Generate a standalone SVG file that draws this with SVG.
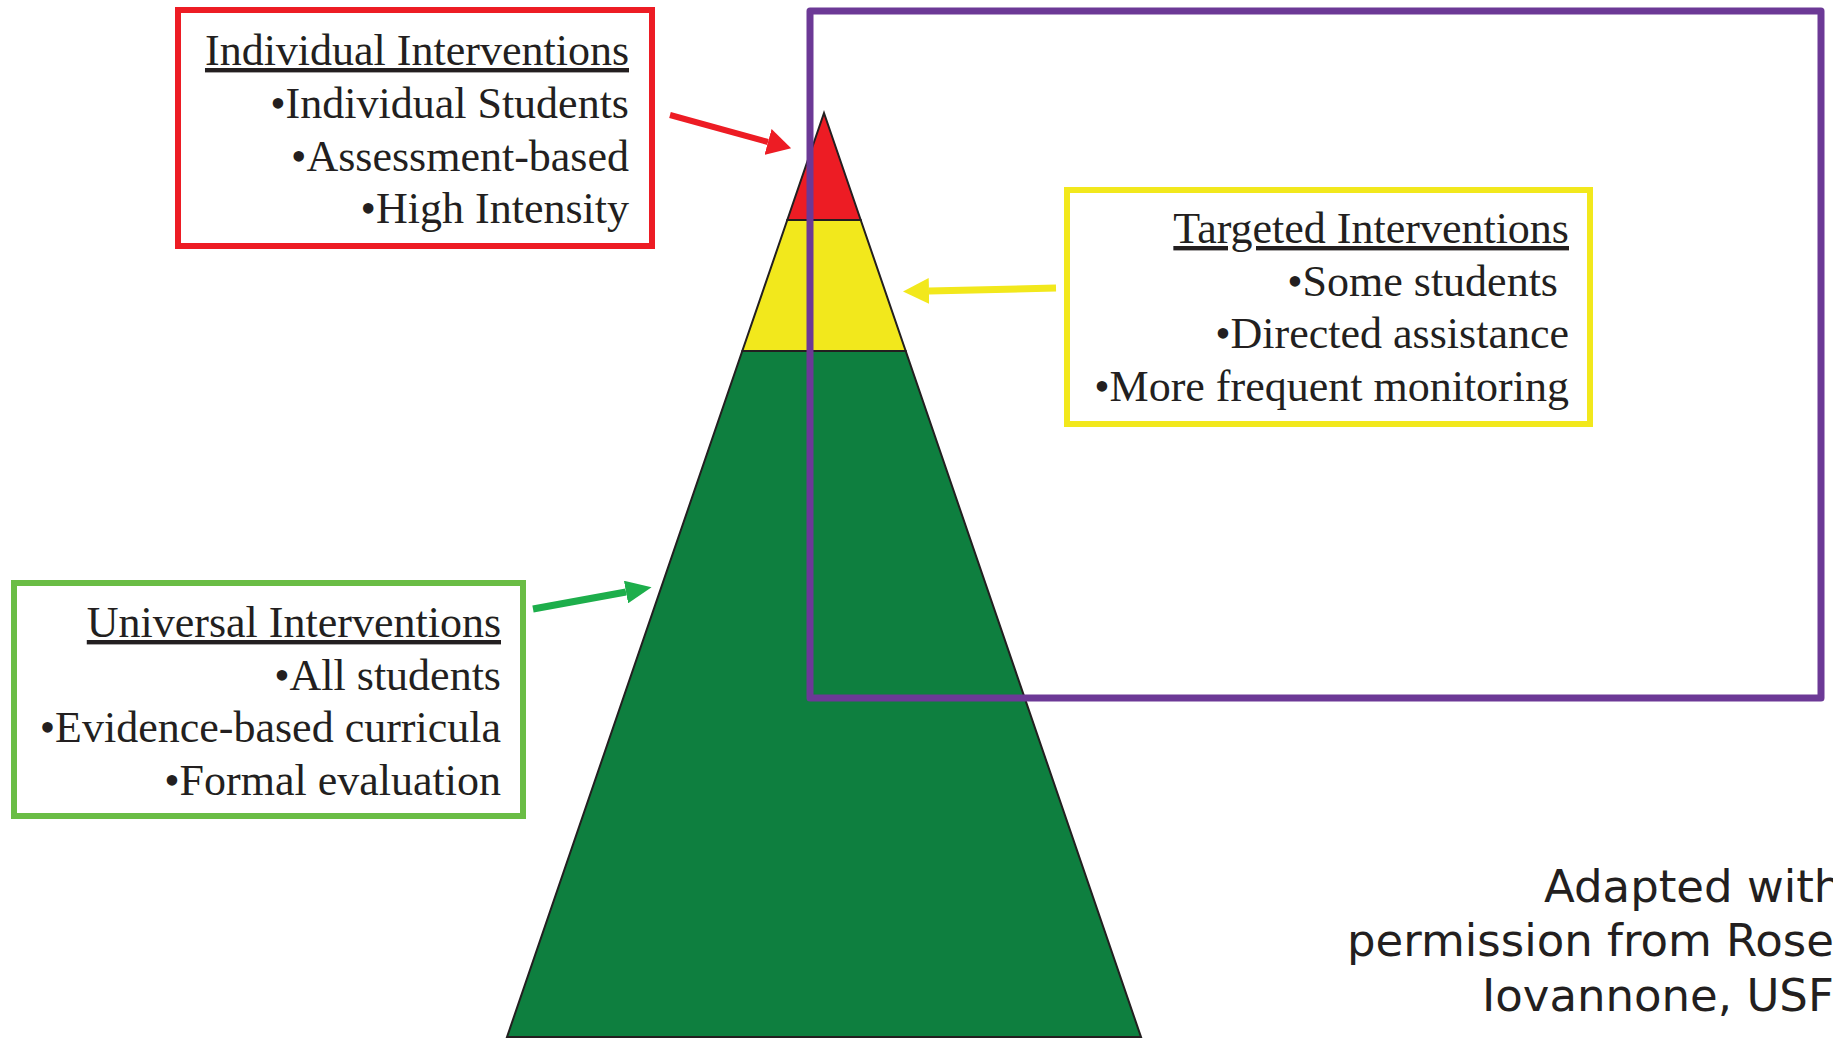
<svg xmlns="http://www.w3.org/2000/svg" width="1833" height="1039" viewBox="0 0 1833 1039">
  <style>
    .label { font-family: "Liberation Serif", "Times New Roman", serif; font-size: 44px; fill: #231f20; text-anchor: end; }
    .head { text-decoration: underline; }
    .credit { font-family: "DejaVu Sans", Verdana, sans-serif; font-size: 45px; fill: #231f20; }
    .box { fill: #ffffff; stroke-width: 6; }
    .tier { stroke: #231f20; stroke-width: 2; stroke-linejoin: miter; }
    .arrow { fill: none; stroke-linecap: butt; }
  </style>
  <defs>
    <marker id="head-red" viewBox="0 0 10 10" refX="0" refY="5" markerUnits="userSpaceOnUse" markerWidth="24" markerHeight="27" orient="auto" preserveAspectRatio="none">
      <path d="M0,0 L10,5 L0,10 z" fill="#ed1c24"/>
    </marker>
    <marker id="head-yellow" viewBox="0 0 10 10" refX="0" refY="5" markerUnits="userSpaceOnUse" markerWidth="26" markerHeight="26" orient="auto" preserveAspectRatio="none">
      <path d="M0,0 L10,5 L0,10 z" fill="#f2e81c"/>
    </marker>
    <marker id="head-green" viewBox="0 0 10 10" refX="0" refY="5" markerUnits="userSpaceOnUse" markerWidth="26" markerHeight="23" orient="auto" preserveAspectRatio="none">
      <path d="M0,0 L10,5 L0,10 z" fill="#1dae4b"/>
    </marker>
  </defs>

  <rect width="1833" height="1039" fill="#ffffff"/>

  <!-- three-tier pyramid -->
  <g id="pyramid">
    <polygon class="tier" points="742.3,351 905.7,351 1141,1037 507,1037" fill="#0e7f3f"/>
    <polygon class="tier" points="787.3,220 860.7,220 905.7,351 742.3,351" fill="#f2e81c"/>
    <polygon class="tier" points="824,113 860.7,220 787.3,220" fill="#ed1c24"/>
  </g>

  <!-- outline frame -->
  <g id="frame">
    <rect x="810" y="11" width="1011" height="687" fill="none" stroke="#6c3996" stroke-width="7" stroke-linejoin="round"/>
  </g>

  <!-- individual tier -->
  <g id="individual">
    <rect class="box" x="178" y="10" width="474" height="236" stroke="#ed1c24"/>
    <text class="label head" x="629" y="65">Individual Interventions</text>
    <text class="label" x="629" y="118">•Individual Students</text>
    <text class="label" x="629" y="171">•Assessment-based</text>
    <text class="label" x="629" y="223">•High Intensity</text>
  </g>

  <!-- targeted tier -->
  <g id="targeted">
    <rect class="box" x="1067" y="190" width="523" height="234" stroke="#f2e81c"/>
    <text class="label head" x="1569" y="243">Targeted Interventions</text>
    <text class="label" x="1558" y="296">•Some students</text>
    <text class="label" x="1569" y="348">•Directed assistance</text>
    <text class="label" x="1569" y="401">•More frequent monitoring</text>
  </g>

  <!-- universal tier -->
  <g id="universal">
    <rect class="box" x="14" y="583" width="509" height="233" stroke="#6abd45"/>
    <text class="label head" x="501" y="637">Universal Interventions</text>
    <text class="label" x="501" y="690">•All students</text>
    <text class="label" x="501" y="742">•Evidence-based curricula</text>
    <text class="label" x="501" y="795">•Formal evaluation</text>
  </g>

  <!-- connectors -->
  <g id="connectors">
    <line class="arrow" x1="670" y1="115" x2="768" y2="142" stroke="#ed1c24" stroke-width="6" marker-end="url(#head-red)"/>
    <line class="arrow" x1="1056" y1="288" x2="929" y2="291" stroke="#f2e81c" stroke-width="7" marker-end="url(#head-yellow)"/>
    <line class="arrow" x1="533" y1="609" x2="626" y2="592" stroke="#1dae4b" stroke-width="7" marker-end="url(#head-green)"/>
  </g>

  <!-- credit line -->
  <g id="credit">
    <text class="credit" x="1544" y="902">Adapted with</text>
    <text class="credit" x="1347" y="956">permission from Rose</text>
    <text class="credit" x="1482" y="1011">Iovannone, USF</text>
  </g>
</svg>
